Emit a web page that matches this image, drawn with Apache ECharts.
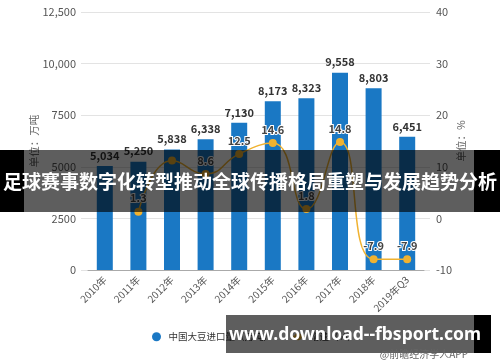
<!DOCTYPE html>
<html>
<head>
<meta charset="utf-8">
<script src="https://cdn.jsdelivr.net/npm/echarts@6/dist/echarts.min.js"></script>
<style>
html,body{margin:0;padding:0;background:#fff;}
#chart{width:500px;height:362px;}
</style>
</head>
<body>
<div id="chart"></div>
<script>
var categories = ['2010年','2011年','2012年','2013年','2014年','2015年','2016年','2017年','2018年','2019年Q3'];
var importVolume = [5034, 5250, 5838, 6338, 7130, 8173, 8323, 9558, 8803, 6451];
var growthRate = [null, 1.3, 11.2, 8.6, 12.5, 14.6, 1.8, 14.8, -7.9, -7.9];
var hiddenGrowthLabels = [2];
var leftTicks = [0, 2500, 5000, 7500, 10000, 12500];
var rightTicks = [-10, 0, 10, 20, 30, 40];
var seriesNames = ['中国大豆进口量（万吨）', '增速（%）'];
var titleText = '足球赛事数字化转型推动全球传播格局重塑与发展趋势分析';
var watermarkText = 'www.download--fbsport.com';
var sourceText = '@前瞻经济学人APP';

var FONT = '"Noto Sans CJK SC","Noto Sans",sans-serif';
var chart = echarts.init(document.getElementById('chart'), null, {renderer:'canvas'});
var leftMin = leftTicks[0], leftMax = leftTicks[leftTicks.length-1], leftInt = leftTicks[1]-leftTicks[0];
var rightMin = rightTicks[0], rightMax = rightTicks[rightTicks.length-1], rightInt = rightTicks[1]-rightTicks[0];
function fmtThousands(v){ return String(v).replace(/\B(?=(\d{3})+(?!\d))/g, ','); }
var growthData = growthRate.map(function(v, i){
  return hiddenGrowthLabels.indexOf(i) >= 0 ? {value:v, label:{show:false}} : v;
});

chart.setOption({
  animation:false,
  backgroundColor:'#fff',
  textStyle:{fontFamily:FONT},
  grid:[
    {left:81, right:70, top:12, bottom:92},
    {left:88, right:76, top:12, bottom:92}
  ],
  legend:{
    top:327, left:147, itemGap:17, itemWidth:14, itemHeight:9,
    textStyle:{fontSize:9.5, color:'#333', fontFamily:FONT},
    data:[{name:seriesNames[0], icon:'circle'}, {name:seriesNames[1]}]
  },
  xAxis:[
    {gridIndex:0, type:'category', data:categories, show:false},
    {gridIndex:1, type:'category', data:categories,
     axisLine:{lineStyle:{color:'#aaa'}},
     axisTick:{alignWithLabel:true, length:5, lineStyle:{color:'#aaa'}},
     axisLabel:{rotate:45, fontSize:10, color:'#555', margin:8, fontFamily:FONT}}
  ],
  yAxis:[
    {gridIndex:0, type:'value', position:'left', min:leftMin, max:leftMax, interval:leftInt,
     name:'单位：万吨', nameLocation:'middle', nameGap:42, nameMoveOverlap:false,
     nameTextStyle:{fontSize:10.5, color:'#666', fontFamily:FONT},
     axisLine:{show:false}, axisTick:{show:false},
     axisLabel:{fontSize:11, color:'#555', margin:5,
       formatter:function(v){ return v>=10000 ? fmtThousands(v) : String(v); }},
     splitLine:{lineStyle:{color:'#e3e3e3'}}},
    {gridIndex:0, type:'value', position:'right', min:rightMin, max:rightMax, interval:rightInt,
     name:'单位：%', nameLocation:'middle', nameGap:26, nameMoveOverlap:false,
     nameTextStyle:{fontSize:10.5, color:'#666', fontFamily:FONT},
     axisLine:{show:false}, axisTick:{show:false},
     axisLabel:{fontSize:11, color:'#555', margin:6},
     splitLine:{show:false}},
    {gridIndex:1, type:'value', min:leftMin, max:leftMax, interval:leftInt, show:false, splitLine:{show:false}},
    {gridIndex:1, type:'value', min:rightMin, max:rightMax, interval:rightInt, show:false, splitLine:{show:false}}
  ],
  series:[
    {name:seriesNames[0], type:'bar', xAxisIndex:1, yAxisIndex:2, data:importVolume,
     barWidth:16, itemStyle:{color:'#1a78c4'},
     label:{show:true, position:'top', distance:5, fontSize:11, fontWeight:'bold', color:'#333',
       formatter:function(p){ return fmtThousands(p.value); }}},
    {name:seriesNames[1], type:'line', xAxisIndex:1, yAxisIndex:3, data:growthData,
     smooth:true, symbol:'circle', symbolSize:8, connectNulls:false,
     lineStyle:{color:'#f0b230', width:1.5}, itemStyle:{color:'#f0b230'},
     label:{show:true, position:'top', distance:4, fontSize:11, fontWeight:'bold', color:'#444',
       textBorderColor:'#fff', textBorderWidth:2}}
  ],
  graphic:[
    {type:'rect', shape:{x:24, y:150, width:450, height:62}, style:{fill:'rgba(0,0,0,0.63)'}, z:100},
    {type:'rect', shape:{x:0, y:150, width:24, height:62}, style:{fill:'#000'}, z:100},
    {type:'rect', shape:{x:474, y:150, width:26, height:62}, style:{fill:'#000'}, z:100},
    {type:'text', x:250, y:182, z:101,
     style:{text:titleText, fill:'#fff', font:'bold 19px "Noto Sans CJK SC"', textAlign:'center', textVerticalAlign:'middle'}},
    {type:'rect', shape:{x:226, y:315, width:248, height:38}, style:{fill:'rgba(0,0,0,0.63)'}, z:100},
    {type:'rect', shape:{x:474, y:315, width:17, height:38}, style:{fill:'#000'}, z:100},
    {type:'text', x:355, y:335, z:101,
     style:{text:watermarkText, fill:'#fff', font:'bold 17.5px "Noto Sans"', textAlign:'center', textVerticalAlign:'middle'}},
    {type:'text', x:468, y:354, z:101,
     style:{text:sourceText, fill:'#666', font:'10px "Noto Sans CJK SC"', textAlign:'right', textVerticalAlign:'middle'}}
  ]
});
</script>
</body>
</html>
